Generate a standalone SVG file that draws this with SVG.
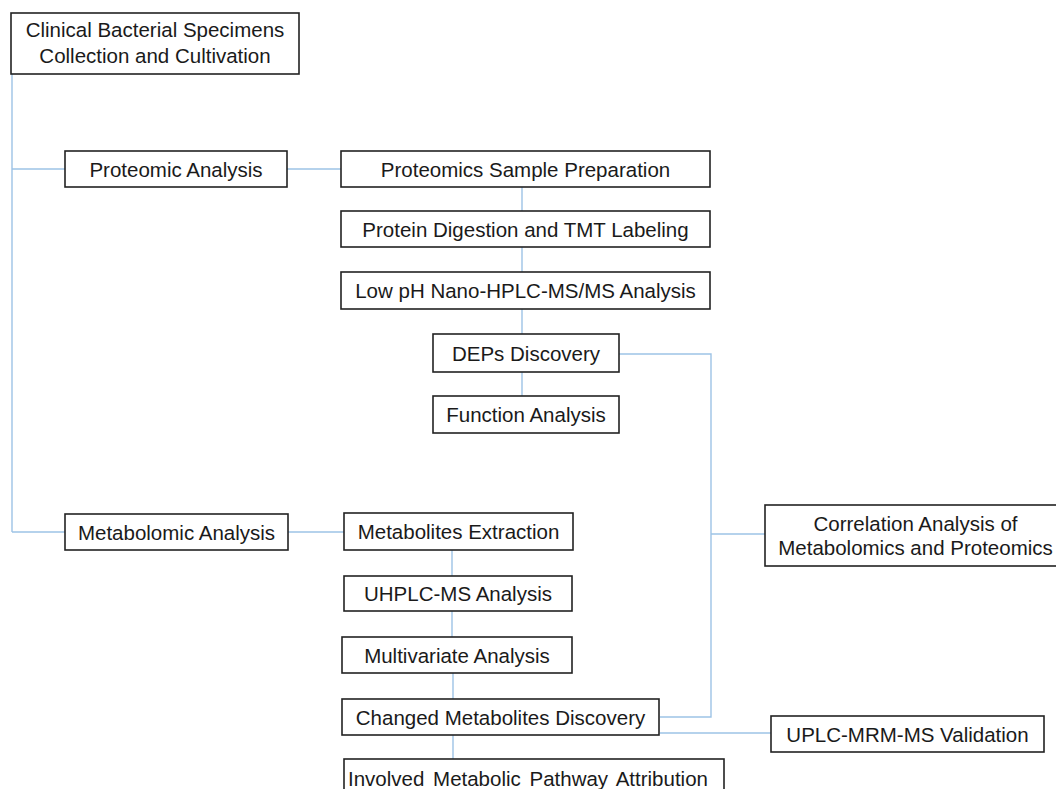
<svg xmlns="http://www.w3.org/2000/svg" width="1056" height="789" viewBox="0 0 1056 789">
<style>
.box{fill:#fff;stroke:#222;stroke-width:1.6}
.t{font-family:"Liberation Sans",Arial,sans-serif;font-size:20.5px;fill:#1a1a1a;text-anchor:middle}
.c{fill:none;stroke:#9dc3e6;stroke-width:1.4}
</style>
<rect width="1056" height="789" fill="#fff"/>
<g id="connectors">
<path class="c" d="M12 74V532M12 169H65M12 532H65"/>
<path class="c" d="M287 169H341"/>
<path class="c" d="M288 532H344"/>
<path class="c" d="M522 187V211M522 247V272M522 309V334M522 372V396"/>
<path class="c" d="M452 550V576M452 611V637M453 673V699M453 735V759"/>
<path class="c" d="M619 354H711V717H660"/>
<path class="c" d="M711 534H765"/>
<path class="c" d="M660 733H771"/>
</g>
<g id="n-clinical"><rect class="box" x="11" y="13" width="288" height="61"/><text class="t" x="155" y="37">Clinical Bacterial Specimens</text><text class="t" x="155" y="63">Collection and Cultivation</text></g>
<g id="n-proteomic"><rect class="box" x="65" y="151" width="222" height="36"/><text class="t" x="176" y="176.5">Proteomic Analysis</text></g>
<g id="n-prep"><rect class="box" x="341" y="151" width="369" height="36"/><text class="t" x="525.5" y="176.5">Proteomics Sample Preparation</text></g>
<g id="n-digest"><rect class="box" x="341" y="211" width="369" height="36"/><text class="t" x="525.5" y="236.5">Protein Digestion and TMT Labeling</text></g>
<g id="n-lowph"><rect class="box" x="341" y="272" width="369" height="37"/><text class="t" x="525.5" y="298">Low pH Nano-HPLC-MS/MS Analysis</text></g>
<g id="n-deps"><rect class="box" x="433" y="334" width="186" height="38"/><text class="t" x="526" y="360.5">DEPs Discovery</text></g>
<g id="n-function"><rect class="box" x="433" y="396" width="186" height="37"/><text class="t" x="526" y="422">Function Analysis</text></g>
<g id="n-metabolomic"><rect class="box" x="65" y="514" width="223" height="36"/><text class="t" x="176.5" y="539.5">Metabolomic Analysis</text></g>
<g id="n-extraction"><rect class="box" x="344" y="513" width="229" height="37"/><text class="t" x="458.5" y="539">Metabolites Extraction</text></g>
<g id="n-uhplc"><rect class="box" x="344" y="576" width="228" height="35"/><text class="t" x="458" y="601">UHPLC-MS Analysis</text></g>
<g id="n-multivariate"><rect class="box" x="342" y="637" width="230" height="36"/><text class="t" x="457" y="662.5">Multivariate Analysis</text></g>
<g id="n-changed"><rect class="box" x="342" y="699" width="317" height="36"/><text class="t" x="500.5" y="724.5">Changed Metabolites Discovery</text></g>
<g id="n-involved"><rect class="box" x="344" y="759" width="380" height="40"/><text class="t" x="528" y="786" word-spacing="3">Involved Metabolic Pathway Attribution</text></g>
<g id="n-correlation"><rect class="box" x="765" y="505" width="300" height="61"/><text class="t" x="915.5" y="531">Correlation Analysis of</text><text class="t" x="915.5" y="555">Metabolomics and Proteomics</text></g>
<g id="n-uplc"><rect class="box" x="771" y="716" width="273" height="36"/><text class="t" x="907.5" y="741.5">UPLC-MRM-MS Validation</text></g>
</svg>
